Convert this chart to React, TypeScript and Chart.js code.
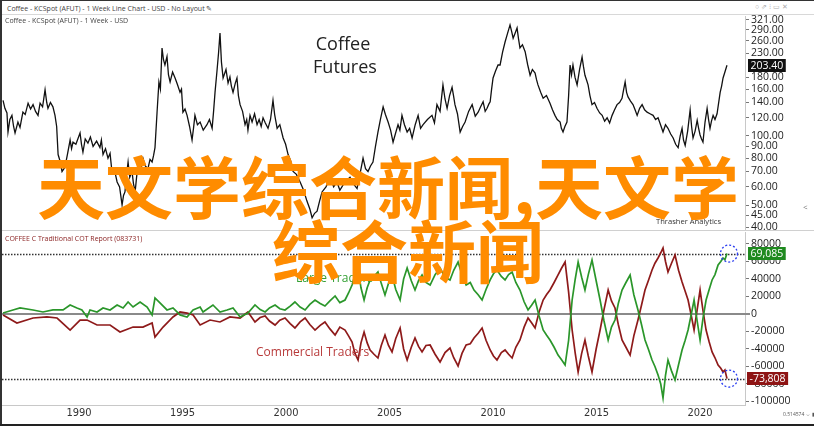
import React, { useEffect, useRef } from "react";
import { Chart, registerables } from "chart.js";

Chart.register(...registerables);

// ---------- DATA ----------
const priceYears = [
  1986.33, 1986.42, 1986.52, 1986.57, 1986.66, 1986.76, 1986.84, 1986.91, 1987.05, 1987.15,
  1987.29, 1987.4, 1987.54, 1987.66, 1987.78, 1987.9, 1988.02, 1988.12, 1988.24, 1988.36,
  1988.44, 1988.5, 1988.62, 1988.74, 1988.84, 1988.92, 1988.99, 1989.08, 1989.18, 1989.32,
  1989.45, 1989.57, 1989.64, 1989.71, 1989.85, 1990.05, 1990.12, 1990.19, 1990.3, 1990.43,
  1990.55, 1990.68, 1990.85, 1991.01, 1991.08, 1991.16, 1991.28, 1991.4, 1991.5, 1991.59,
  1991.7, 1991.84, 1991.96, 1992.08, 1992.15, 1992.22, 1992.3, 1992.37, 1992.45, 1992.56,
  1992.63, 1992.71, 1992.78, 1992.85, 1992.97, 1993.09, 1993.2, 1993.33, 1993.43, 1993.53,
  1993.6, 1993.67, 1993.77, 1993.86, 1993.93, 1994.01, 1994.08, 1994.15, 1994.25, 1994.32,
  1994.4, 1994.52, 1994.64, 1994.75, 1994.88, 1994.95, 1995.02, 1995.12, 1995.22, 1995.34,
  1995.46, 1995.53, 1995.6, 1995.72, 1995.85, 1996.0, 1996.18, 1996.3, 1996.43, 1996.5,
  1996.57, 1996.66, 1996.74, 1996.81, 1996.88, 1996.96, 1997.1, 1997.2, 1997.29, 1997.36,
  1997.44, 1997.55, 1997.63, 1997.7, 1997.78, 1997.9, 1998.02, 1998.1, 1998.16, 1998.26,
  1998.36, 1998.48, 1998.6, 1998.7, 1998.8, 1998.89, 1999.0, 1999.13, 1999.25, 1999.37,
  1999.45, 1999.57, 1999.7, 1999.86, 1999.98, 2000.1, 2000.22, 2000.34, 2000.5, 2000.68,
  2000.85, 2001.01, 2001.15, 2001.26, 2001.38, 2001.5, 2001.62, 2001.74, 2001.93, 2002.13,
  2002.3, 2002.46, 2002.6, 2002.75, 2002.92, 2003.09, 2003.25, 2003.43, 2003.57, 2003.72,
  2003.84, 2003.96, 2004.08, 2004.2, 2004.32, 2004.44, 2004.56, 2004.69, 2004.8, 2004.93,
  2005.05, 2005.17, 2005.28, 2005.41, 2005.5, 2005.6, 2005.72, 2005.85, 2005.97, 2006.09,
  2006.24, 2006.38, 2006.5, 2006.62, 2006.83, 2007.05, 2007.17, 2007.29, 2007.44, 2007.58,
  2007.68, 2007.78, 2007.9, 2008.02, 2008.09, 2008.16, 2008.28, 2008.41, 2008.53, 2008.65,
  2008.82, 2008.99, 2009.14, 2009.28, 2009.4, 2009.52, 2009.62, 2009.71, 2009.8, 2009.86,
  2009.93, 2010.0, 2010.12, 2010.24, 2010.34, 2010.46, 2010.58, 2010.7, 2010.82, 2010.9,
  2010.97, 2011.06, 2011.16, 2011.23, 2011.3, 2011.42, 2011.55, 2011.67, 2011.79, 2011.9,
  2012.03, 2012.1, 2012.17, 2012.3, 2012.42, 2012.58, 2012.75, 2012.87, 2012.99, 2013.1,
  2013.24, 2013.3, 2013.38, 2013.47, 2013.57, 2013.65, 2013.72, 2013.79, 2013.86, 2013.96,
  2014.06, 2014.18, 2014.3, 2014.37, 2014.44, 2014.52, 2014.59, 2014.68, 2014.78, 2014.9,
  2015.02, 2015.15, 2015.27, 2015.39, 2015.51, 2015.63, 2015.75, 2015.87, 2015.99, 2016.11,
  2016.23, 2016.3, 2016.38, 2016.45, 2016.52, 2016.64, 2016.76, 2016.86, 2016.96, 2017.08,
  2017.2, 2017.32, 2017.44, 2017.58, 2017.73, 2017.85, 2017.97, 2018.09, 2018.21, 2018.33,
  2018.45, 2018.58, 2018.7, 2018.82, 2018.94, 2019.04, 2019.13, 2019.2, 2019.28, 2019.4,
  2019.52, 2019.59, 2019.66, 2019.76, 2019.86, 2019.93, 2020.0, 2020.07, 2020.14, 2020.24,
  2020.34, 2020.41, 2020.48, 2020.55, 2020.63, 2020.72, 2020.82, 2020.9, 2020.97, 2021.04,
  2021.11, 2021.2, 2021.3,
];
const priceValues = [
  143, 132, 126, 104, 118, 123, 110, 103, 115, 109,
  127, 124, 139, 131, 137, 128, 123, 139, 134, 159,
  140, 132, 140, 134, 123, 110, 83, 78, 70, 73,
  84, 96, 88, 94, 92, 103, 92, 85, 97, 93,
  99, 90, 95, 89, 96, 83, 88, 80, 84, 70,
  72, 63, 60, 50, 55, 57, 68, 77, 66, 70,
  62, 57, 66, 75, 70, 80, 74, 72, 79, 77,
  82, 89, 127, 172, 160, 242, 215, 204, 222, 185,
  172, 190, 179, 168, 155, 160, 127, 131, 123, 110,
  96, 108, 123, 112, 115, 106, 112, 118, 108, 128,
  155, 190, 230, 281, 210, 179, 195, 170, 181, 165,
  155, 170, 179, 150, 137, 128, 112, 118, 106, 123,
  115, 125, 112, 118, 110, 120, 114, 108, 118, 143,
  124, 108, 112, 98, 92, 83, 78, 70, 68, 63,
  58, 52, 48, 44, 46, 47, 52, 57, 60, 66,
  60, 63, 58, 61, 64, 66, 62, 59, 68, 80,
  72, 70, 74, 77, 90, 104, 118, 134, 124, 115,
  106, 94, 102, 112, 106, 123, 112, 104, 108, 98,
  112, 123, 108, 112, 118, 123, 114, 137, 128, 167,
  145, 132, 150, 163, 150, 137, 125, 104, 110, 115,
  128, 137, 122, 127, 134, 141, 128, 132, 138, 141,
  160, 179, 192, 204, 204, 232, 257, 280, 305, 285,
  267, 280, 296, 265, 242, 250, 233, 205, 184, 195,
  188, 176, 167, 155, 146, 150, 139, 130, 123, 118,
  115, 108, 104, 110, 115, 150, 204, 185, 204, 180,
  167, 195, 221, 200, 184, 175, 167, 150, 137, 140,
  132, 126, 123, 116, 120, 114, 123, 130, 137, 140,
  146, 158, 172, 155, 148, 142, 137, 130, 123, 132,
  137, 130, 127, 125, 123, 118, 120, 112, 104, 112,
  108, 102, 98, 92, 89, 100, 108, 96, 91, 105,
  130, 110, 98, 105, 117, 108, 101, 97, 94, 115,
  132, 118, 108, 116, 123, 118, 125, 140, 155, 165,
  179, 190, 203.4,
];

const largeYears = [
  1986.33, 1986.81, 1987.15, 1987.78, 1988.26, 1988.74, 1989.23, 1989.57, 1989.9, 1990.14,
  1990.39, 1990.53, 1990.87, 1991.16, 1991.5, 1991.84, 1992.13, 1992.37, 1992.61, 1992.95,
  1993.29, 1993.53, 1993.67, 1993.91, 1994.25, 1994.54, 1994.88, 1995.22, 1995.51, 1995.85,
  1995.99, 1996.47, 1996.81, 1997.15, 1997.44, 1997.78, 1998.16, 1998.5, 1998.75, 1998.99,
  1999.2, 1999.47, 1999.7, 1999.95, 2000.2, 2000.43, 2000.68, 2000.92, 2001.15, 2001.4,
  2001.65, 2001.88, 2002.12, 2002.37, 2002.6, 2002.85, 2003.02, 2003.19, 2003.33, 2003.48,
  2003.62, 2003.77, 2003.92, 2004.06, 2004.25, 2004.44, 2004.6, 2004.78, 2004.95, 2005.12,
  2005.3, 2005.51, 2005.68, 2005.85, 2006.05, 2006.23, 2006.4, 2006.57, 2006.76, 2006.96,
  2007.2, 2007.44, 2007.68, 2007.92, 2008.1, 2008.31, 2008.5, 2008.7, 2008.9, 2009.08,
  2009.28, 2009.47, 2009.66, 2009.86, 2010.02, 2010.19, 2010.4, 2010.58, 2010.75, 2010.92,
  2011.1, 2011.3, 2011.5, 2011.69, 2011.86, 2012.03, 2012.22, 2012.42, 2012.58, 2012.75,
  2012.95, 2013.14, 2013.3, 2013.48, 2013.65, 2013.82, 2013.97, 2014.11, 2014.28, 2014.44,
  2014.6, 2014.78, 2014.98, 2015.17, 2015.36, 2015.56, 2015.72, 2015.89, 2016.05, 2016.23,
  2016.42, 2016.62, 2016.8, 2017.0, 2017.17, 2017.34, 2017.5, 2017.68, 2017.82, 2017.97,
  2018.1, 2018.21, 2018.33, 2018.45, 2018.62, 2018.79, 2018.96, 2019.13, 2019.28, 2019.42,
  2019.56, 2019.71, 2019.86, 2020.0, 2020.14, 2020.29, 2020.44, 2020.58, 2020.72, 2020.87,
  2021.0, 2021.11, 2021.2, 2021.3,
];
const largeNet = [
  1100, 4600, 6900, 4600, 2300, 4600, 4600, 10300, 6900, 4600,
  -3400, 4600, 2300, 6900, 4600, 10300, 6900, 13700, 8000, 13700,
  8000, -1100, 18300, 12600, 4600, 6900, -1100, -3400, 4600, 8000,
  2300, 10300, 2300, 4600, 6900, -3400, 1100, 10300, 5000, 2300,
  7000, 10300, 6000, 4600, 9000, 13700, 8000, 4600, 11000, 16000,
  12000, 9100, 15000, 20600, 13000, 16000, 24000, 33100, 45000, 52600,
  30000, 16000, 30000, 38900, 43000, 48000, 35000, 21700, 35000, 44600,
  28000, 16000, 40000, 52600, 38000, 27400, 38000, 44600, 36000, 33100,
  45000, 52600, 42000, 38900, 50000, 59400, 45000, 33100, 36000, 27400,
  22000, 16000, 28000, 38900, 46000, 50300, 43000, 38900, 45000, 48000,
  36000, 27400, 14000, 4600, 10000, 16000, -2000, -18300, -24000, -29700,
  -38000, -46900, -52000, -58300, -30000, 16000, 40000, 59400, 42000, 27400,
  45000, 61700, 38000, 16000, -8000, -29700, -15000, -6900, 12000, 27400,
  36000, 44600, 22000, 4600, -12000, -29700, -40000, -52600, -60000, -69700,
  -80000, -96000, -70000, -52600, -65000, -75400, -58000, -41100, -30000, -18300,
  -2000, 16000, -8000, -29700, -5000, 16000, 28000, 38900, 45000, 56000,
  60000, 64000, 62000, 69085,
];

const commYears = [
  1986.33, 1987.0, 1987.78, 1988.45, 1988.94, 1989.57, 1990.05, 1990.39, 1990.87, 1991.5,
  1991.98, 1992.61, 1993.09, 1993.53, 1993.67, 1994.06, 1994.54, 1994.88, 1995.22, 1995.51,
  1995.85, 1996.33, 1996.81, 1997.29, 1997.78, 1998.16, 1998.5, 1998.75, 1998.99, 1999.2,
  1999.47, 1999.7, 1999.95, 2000.2, 2000.43, 2000.68, 2000.92, 2001.15, 2001.4, 2001.65,
  2001.88, 2002.12, 2002.37, 2002.6, 2002.85, 2003.02, 2003.19, 2003.33, 2003.48, 2003.62,
  2003.77, 2003.92, 2004.06, 2004.25, 2004.44, 2004.6, 2004.78, 2004.95, 2005.12, 2005.3,
  2005.51, 2005.68, 2005.85, 2006.05, 2006.23, 2006.4, 2006.57, 2006.76, 2006.96, 2007.2,
  2007.44, 2007.68, 2007.92, 2008.1, 2008.31, 2008.5, 2008.7, 2008.9, 2009.08, 2009.28,
  2009.47, 2009.66, 2009.86, 2010.02, 2010.19, 2010.4, 2010.58, 2010.75, 2010.92, 2011.1,
  2011.3, 2011.5, 2011.69, 2011.86, 2012.03, 2012.22, 2012.42, 2012.58, 2012.75, 2012.95,
  2013.14, 2013.3, 2013.48, 2013.65, 2013.82, 2013.97, 2014.11, 2014.28, 2014.44, 2014.6,
  2014.78, 2014.98, 2015.17, 2015.36, 2015.56, 2015.72, 2015.89, 2016.05, 2016.23, 2016.42,
  2016.62, 2016.8, 2017.0, 2017.17, 2017.34, 2017.5, 2017.68, 2017.82, 2017.97, 2018.1,
  2018.21, 2018.33, 2018.45, 2018.62, 2018.79, 2018.96, 2019.13, 2019.28, 2019.42, 2019.56,
  2019.71, 2019.86, 2020.0, 2020.14, 2020.29, 2020.44, 2020.58, 2020.72, 2020.87, 2021.0,
  2021.11, 2021.2, 2021.3,
];
const commNet = [
  -1100, -10300, -4600, -3400, -4600, -18300, -6900, -6900, -12600, -12600,
  -20600, -14900, -14900, -10300, -26300, -14900, -3400, 2300, 1100, -1100,
  -12600, -6900, -9100, -3400, -4600, 2300, -9100, -4000, -2300, -8000,
  -12600, -7000, -4600, -11000, -16000, -9000, -4600, -12000, -18300, -13000,
  -9100, -17000, -24000, -15000, -18300, -25000, -32000, -45000, -52600, -33000,
  -20600, -33000, -41100, -46000, -50300, -36000, -24000, -36000, -43400, -28000,
  -16000, -40000, -52600, -38000, -27400, -37000, -43400, -36000, -35400, -46000,
  -54900, -44000, -38900, -50000, -59400, -45000, -35400, -34000, -27400, -22000,
  -16000, -30000, -41100, -48000, -52600, -44000, -41100, -46000, -50300, -38000,
  -29700, -15000, -4600, -10000, -16000, 2000, 16000, 22000, 27400, 36000,
  44600, 52000, 59400, 25000, -18300, -45000, -66300, -45000, -29700, -48000,
  -66300, -40000, -18300, 5000, 27400, 15000, 6900, -12000, -29700, -38000,
  -46900, -25000, -6900, 10000, 27400, 38000, 50300, 58000, 64000, 70000,
  75400, 60000, 48000, 58000, 67400, 50000, 36600, 26000, 16000, 0,
  -18300, 5000, 27400, 4000, -18300, -32000, -43400, -50000, -58300, -62000,
  -66300, -64000, -73808,
];

const priceTicks = [321, 290, 260, 230, 180, 160, 140, 120, 100, 90, 80, 70, 60, 50, 45, 40];
const cotTicks = [80000, 60000, 40000, 20000, 0, -20000, -40000, -60000, -80000, -100000];
const yearTicks = [1990, 1995, 2000, 2005, 2010, 2015, 2020];

const X_MIN = 1986.28;
const X_MAX = 2022.17;

const AXIS_FONT = "'Open Sans', 'DejaVu Sans', sans-serif";

function drawValueBox(ctx: CanvasRenderingContext2D, x: number, y: number, text: string, bg: string) {
  ctx.save();
  ctx.font = `10.5px ${AXIS_FONT}`;
  const w = ctx.measureText(text).width + 5;
  const h = 13;
  const top = Math.round(y - h / 2);
  ctx.fillStyle = bg;
  ctx.fillRect(x, top, w, h);
  ctx.fillStyle = "#ffffff";
  ctx.textBaseline = "middle";
  ctx.textAlign = "left";
  ctx.fillText(text, x + 2.5, top + h / 2 + 0.5);
  ctx.restore();
}

function drawCircle(ctx: CanvasRenderingContext2D, x: number, y: number) {
  ctx.save();
  ctx.strokeStyle = "#2a3cf0";
  ctx.lineWidth = 1.3;
  ctx.setLineDash([2, 2]);
  ctx.beginPath();
  ctx.arc(x, y, 8.5, 0, Math.PI * 2);
  ctx.stroke();
  ctx.restore();
}

const pricePlugin = {
  id: "priceMarks",
  afterDraw(chart: any) {
    const { ctx, chartArea, scales } = chart;
    const last = priceValues[priceValues.length - 1];
    const y = scales.y.getPixelForValue(last);
    drawValueBox(ctx, chartArea.right + 3, y, last.toFixed(2), "#111111");
  },
};

const cotPlugin = {
  id: "cotMarks",
  beforeDatasetsDraw(chart: any) {
    const { ctx, chartArea, scales } = chart;
    const y0 = scales.y.getPixelForValue(0);
    ctx.save();
    ctx.strokeStyle = "#8a8a8a";
    ctx.lineWidth = 2;
    ctx.beginPath();
    ctx.moveTo(chartArea.left, y0);
    ctx.lineTo(chartArea.right + 5, y0);
    ctx.stroke();
    const lastVals = [largeNet[largeNet.length - 1], commNet[commNet.length - 1]];
    ctx.strokeStyle = "#333333";
    ctx.lineWidth = 1.5;
    ctx.setLineDash([1.5, 1.5]);
    lastVals.forEach((v) => {
      const y = Math.round(scales.y.getPixelForValue(v)) + 0.5;
      ctx.beginPath();
      ctx.moveTo(chartArea.left, y);
      ctx.lineTo(chartArea.right, y);
      ctx.stroke();
    });
    ctx.restore();
  },
  afterDraw(chart: any) {
    const { ctx, chartArea, scales } = chart;
    const lg = largeNet[largeNet.length - 1];
    const cm = commNet[commNet.length - 1];
    const lx = scales.x.getPixelForValue(largeYears[largeYears.length - 1]);
    const cx = scales.x.getPixelForValue(commYears[commYears.length - 1]);
    drawCircle(ctx, lx + 2, scales.y.getPixelForValue(lg));
    drawCircle(ctx, cx + 2, scales.y.getPixelForValue(cm));
    drawValueBox(ctx, chartArea.right + 3, scales.y.getPixelForValue(lg), lg.toLocaleString("en-US"), "#1f8a1f");
    drawValueBox(ctx, chartArea.right + 2, scales.y.getPixelForValue(cm), cm.toLocaleString("en-US"), "#8e1414");
  },
};

const yTickFont = { family: AXIS_FONT, size: 10.5, lineHeight: "12px" };

export default function App() {
  const topRef = useRef<HTMLCanvasElement>(null);
  const botRef = useRef<HTMLCanvasElement>(null);

  useEffect(() => {
    document.body.style.margin = "0";
    const top = new Chart(topRef.current as HTMLCanvasElement, {
      type: "line",
      data: {
        datasets: [
          {
            data: priceYears.map((x, i) => ({ x, y: priceValues[i] })),
            borderColor: "#111111",
            borderWidth: 1.3,
            pointRadius: 0,
            tension: 0,
          },
        ],
      },
      options: {
        animation: false,
        responsive: false,
        maintainAspectRatio: false,
        layout: { padding: { left: 2, top: 0, bottom: 0, right: 0 } },
        plugins: { legend: { display: false }, tooltip: { enabled: false } },
        scales: {
          x: { type: "linear", min: X_MIN, max: X_MAX, display: false },
          y: {
            type: "logarithmic",
            position: "right",
            min: 38.9,
            max: 333.6,
            afterBuildTicks: (s: any) => {
              s.ticks = priceTicks.map((v) => ({ value: v }));
            },
            afterFit: (s: any) => {
              s.width = 69;
            },
            ticks: {
              callback: (v: any) => Number(v).toFixed(2),
              font: yTickFont,
              color: "#222222",
              padding: 2,
              autoSkip: false,
            },
            grid: { drawOnChartArea: false, drawTicks: true, tickLength: 4, color: "#777777" },
            border: { display: true, color: "#c8c8c8" },
          },
        },
      } as any,
      plugins: [pricePlugin],
    });

    const bot = new Chart(botRef.current as HTMLCanvasElement, {
      type: "line",
      data: {
        datasets: [
          {
            label: "Large Traders",
            data: largeYears.map((x, i) => ({ x, y: largeNet[i] })),
            borderColor: "#2a962a",
            borderWidth: 1.7,
            pointRadius: 0,
            tension: 0,
          },
          {
            label: "Commercial Traders",
            data: commYears.map((x, i) => ({ x, y: commNet[i] })),
            borderColor: "#8e1a1a",
            borderWidth: 1.7,
            pointRadius: 0,
            tension: 0,
          },
        ],
      },
      options: {
        animation: false,
        responsive: false,
        maintainAspectRatio: false,
        layout: { padding: { left: 2, top: 0, bottom: 0, right: 0 } },
        plugins: { legend: { display: false }, tooltip: { enabled: false } },
        scales: {
          x: {
            type: "linear",
            min: X_MIN,
            max: X_MAX,
            afterBuildTicks: (s: any) => {
              s.ticks = yearTicks.map((v) => ({ value: v }));
            },
            afterFit: (s: any) => {
              s.height = 21;
            },
            ticks: {
              callback: (v: any) => String(v),
              font: { family: "'Liberation Sans Narrow', 'DejaVu Sans Condensed', 'Open Sans', sans-serif", size: 11 },
              color: "#333333",
              padding: 2,
              maxRotation: 0,
              autoSkip: false,
            },
            grid: { display: false, drawTicks: false },
            border: { display: true, color: "#c8c8c8" },
          },
          y: {
            type: "linear",
            position: "right",
            min: -104000,
            max: 93714,
            afterBuildTicks: (s: any) => {
              s.ticks = cotTicks.map((v) => ({ value: v }));
            },
            afterFit: (s: any) => {
              s.width = 69;
            },
            ticks: {
              callback: (v: any) => String(v),
              font: yTickFont,
              color: "#222222",
              padding: 2,
              autoSkip: false,
            },
            grid: { drawOnChartArea: false, drawTicks: true, tickLength: 4, color: "#777777" },
            border: { display: true, color: "#c8c8c8" },
          },
        },
      } as any,
      plugins: [cotPlugin],
    });

    return () => {
      top.destroy();
      bot.destroy();
    };
  }, []);

  const txt = (extra: React.CSSProperties): React.CSSProperties => ({
    position: "absolute",
    whiteSpace: "nowrap",
    lineHeight: 1,
    fontFamily: "'Open Sans', sans-serif",
    pointerEvents: "none",
    ...extra,
  });

  return (
    <div style={{ position: "relative", width: 814, height: 426, background: "#fff", overflow: "hidden" }}>
      {/* panels (clipped so the plot areas sit exactly where the reference has them) */}
      <div style={{ position: "absolute", left: 0, top: 15, width: 814, height: 215, overflow: "hidden" }}>
        <canvas ref={topRef} width={814} height={230} style={{ position: "absolute", left: 0, top: -7 }} />
      </div>
      <div style={{ position: "absolute", left: 0, top: 231, width: 814, height: 195, overflow: "hidden" }}>
        <canvas ref={botRef} width={814} height={202} style={{ position: "absolute", left: 0, top: -7 }} />
      </div>

      {/* frame lines */}
      <div style={{ position: "absolute", left: 0, top: 0, width: 814, height: 1, background: "#333" }} />
      <div style={{ position: "absolute", left: 0, top: 0, width: 2, height: 426, background: "#333" }} />
      <div style={{ position: "absolute", left: 0, top: 424, width: 814, height: 2, background: "#222" }} />
      <div style={{ position: "absolute", left: 2, top: 14, width: 812, height: 1, background: "#d8d8d8" }} />
      <div style={{ position: "absolute", left: 2, top: 230, width: 812, height: 1, background: "#d0d0d0" }} />

      {/* header texts */}
      <div style={txt({ left: 7, top: 5, fontSize: 7, color: "#444" })}>
        Coffee - KCSpot (AFUT) - 1 Week Line Chart - USD - No Layout ✎
      </div>
      <div style={txt({ left: 755, top: 3, fontSize: 7, color: "#aaa" })}>○ ⇗ ⁝ ▭ ✕</div>
      <div style={txt({ left: 5, top: 17, fontSize: 7, color: "#444" })}>Coffee - KCSpot (AFUT) - 1 Week - USD</div>
      <div style={txt({ left: 293, top: 34, width: 100, textAlign: "center", fontSize: 18, color: "#222" })}>
        Coffee
      </div>
      <div style={txt({ left: 295, top: 57, width: 100, textAlign: "center", fontSize: 18, color: "#222" })}>
        Futures
      </div>
      <div style={txt({ left: 656, top: 218, fontSize: 7.6, color: "#333" })}>Thrasher Analytics</div>
      <div style={txt({ left: 803, top: 203, fontSize: 8, color: "#777" })}>&lt;</div>

      <div style={txt({ left: 5, top: 235, fontSize: 7, color: "#8b2323" })}>COFFEE C Traditional COT Report (083731)</div>
      <div style={txt({ left: 296, top: 272, fontSize: 12, color: "#34a034" })}>Large Traders</div>
      <div style={txt({ left: 256, top: 346, fontSize: 12, color: "#b83a3a" })}>Commercial Traders</div>
      <div style={txt({ left: 783, top: 412, fontSize: 5, color: "#555" })}>0.514574 ⇔ ▮</div>

      {/* watermark */}
      <div
        style={txt({
          left: 37,
          top: 151,
          fontSize: 68,
          fontWeight: 700,
          color: "#ff8c00",
          fontFamily: "'Noto Sans CJK SC', sans-serif",
          zIndex: 5,
        })}
      >
        天文学综合新闻,天文学
      </div>
      <div
        style={txt({
          left: 272,
          top: 215,
          fontSize: 68,
          fontWeight: 700,
          color: "#ff8c00",
          fontFamily: "'Noto Sans CJK SC', sans-serif",
          zIndex: 5,
        })}
      >
        综合新闻
      </div>
    </div>
  );
}
